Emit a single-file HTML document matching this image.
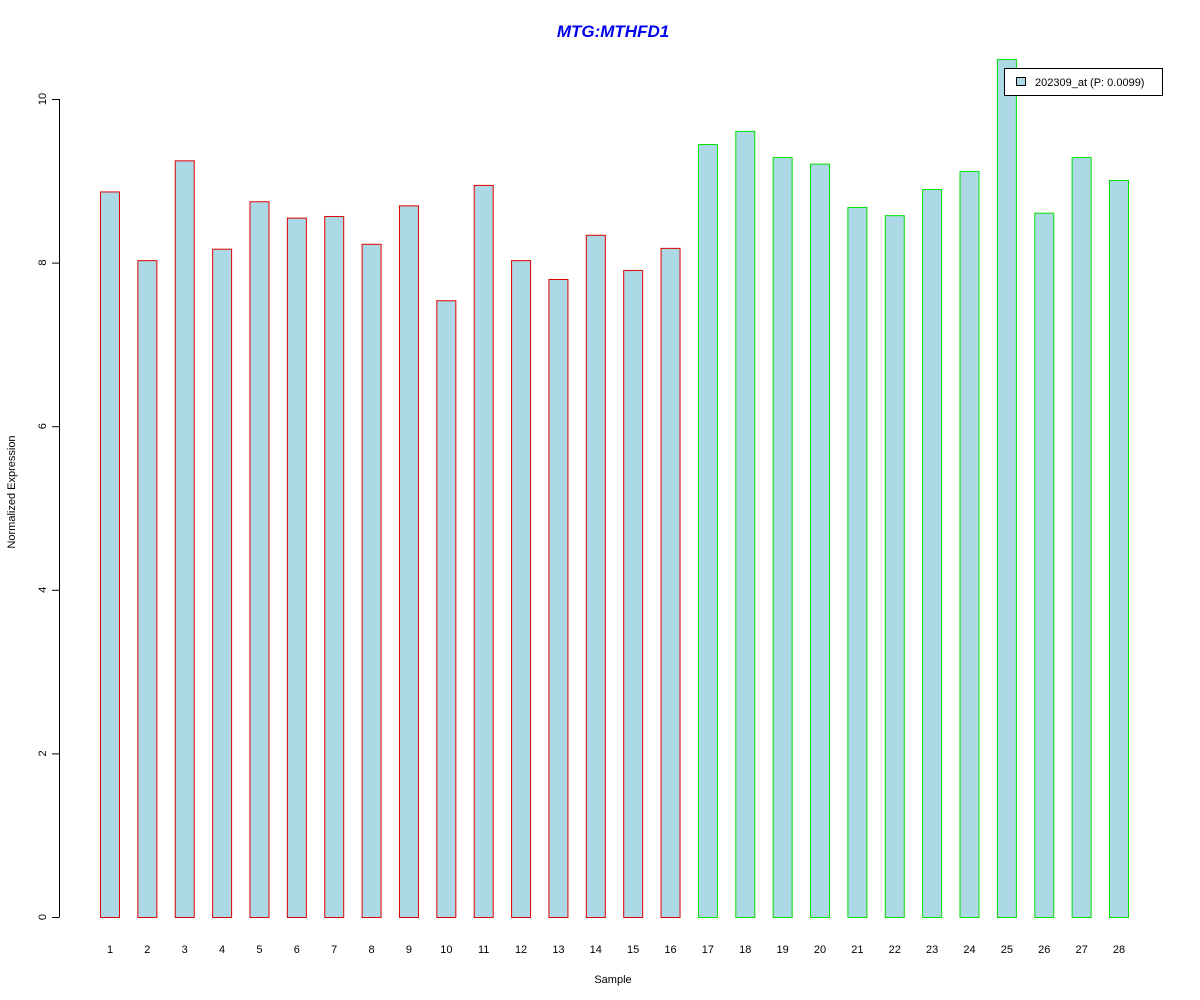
<!DOCTYPE html>
<html><head><meta charset="utf-8"><style>
html,body{margin:0;padding:0;background:#fff;}
svg{display:block;font-family:"Liberation Sans",Arial,sans-serif;}
</style></head><body>
<svg id="chart" width="1200" height="1000" viewBox="0 0 1200 1000">
<rect width="1200" height="1000" fill="#fff"/>
<text x="613" y="37" text-anchor="middle" font-size="17" font-weight="bold" font-style="italic" fill="#0000ee">MTG:MTHFD1</text>
<g id="yaxis"></g>
<g id="bars"></g>
<g id="xlabels"></g>
<text x="613" y="983" text-anchor="middle" font-size="11">Sample</text>
<text transform="translate(15,492) rotate(-90)" text-anchor="middle" font-size="11">Normalized Expression</text>
<g>
<rect x="1004.5" y="68.5" width="158" height="27" fill="#fff" stroke="#000"/>
<rect x="1016.5" y="77.5" width="9" height="8" fill="#add8e6" stroke="#000"/>
<text x="1035" y="86" font-size="11">202309_at (P: 0.0099)</text>
</g>
</svg>
<script>
const categories = ["1","2","3","4","5","6","7","8","9","10","11","12","13","14","15","16","17","18","19","20","21","22","23","24","25","26","27","28"];
const values = [8.87,8.03,9.25,8.17,8.75,8.55,8.57,8.23,8.70,7.54,8.95,8.03,7.80,8.34,7.91,8.18,9.45,9.61,9.29,9.21,8.68,8.58,8.90,9.12,10.49,8.61,9.29,9.01];
const groups = ["a","a","a","a","a","a","a","a","a","a","a","a","a","a","a","a","b","b","b","b","b","b","b","b","b","b","b","b"];
const yTicks = [0,2,4,6,8,10];
const NS="http://www.w3.org/2000/svg";
const y = v => 917 - v*81.8;
const x = i => 109.5 + i*37.37;
function mk(t,a,p){const e=document.createElementNS(NS,t);for(const k in a)e.setAttribute(k,a[k]);p.appendChild(e);return e;}
const ya=document.getElementById('yaxis');
const al=mk('line',{x1:59.5,x2:59.5,y1:y(0),y2:y(10),stroke:'#000'},ya);


yTicks.forEach(t=>{
  const l=mk('line',{x1:52,x2:59.5,y1:y(t)+0.5,y2:y(t)+0.5,stroke:'#000'},ya);
  
  
  const tx=mk('text',{transform:`translate(46,${y(t)}) rotate(-90)`,'text-anchor':'middle','font-size':11},ya);
  tx.textContent=t;
  
  
});
const bg=document.getElementById('bars'), xl=document.getElementById('xlabels');
values.forEach((v,i)=>{
  const r=mk('rect',{x:x(i)-9,y:y(v)+0.5,width:19,height:917-y(v),fill:'#add8e6',stroke:groups[i]==='a'?'#e00000':'#00e000'},bg);
  
  
  const t=mk('text',{x:x(i)+0.5,y:953,'text-anchor':'middle','font-size':11},xl);
  t.textContent=categories[i];
  
  
});
</script>
</body></html>
